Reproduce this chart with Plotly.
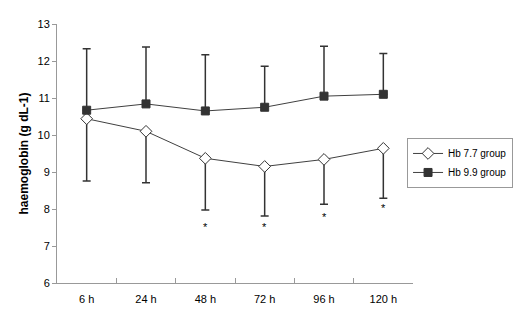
import plotly.graph_objects as go

times = ["6 h", "24 h", "48 h", "72 h", "96 h", "120 h"]
hb77_mean = [10.44, 10.10, 9.37, 9.15, 9.34, 9.64]
hb77_sd = [1.68, 1.39, 1.40, 1.34, 1.21, 1.35]
hb99_mean = [10.67, 10.84, 10.65, 10.75, 11.05, 11.10]
hb99_sd = [1.66, 1.54, 1.52, 1.11, 1.35, 1.10]
star_times = ["48 h", "72 h", "96 h", "120 h"]
star_y = [7.52, 7.52, 7.78, 8.02]

fig = go.Figure()
fig.add_trace(go.Scatter(
    x=times, y=hb77_mean, name="Hb 7.7 group", mode="lines+markers",
    line=dict(color="#404040", width=1),
    marker=dict(symbol="diamond", size=9, color="white", line=dict(color="#333333", width=1)),
    error_y=dict(type="data", symmetric=False, array=[0]*6, arrayminus=hb77_sd,
                 color="#333333", thickness=1.5, width=4),
))
fig.add_trace(go.Scatter(
    x=times, y=hb99_mean, name="Hb 9.9 group", mode="lines+markers",
    line=dict(color="#404040", width=1),
    marker=dict(symbol="square", size=8, color="#333333", line=dict(color="#333333", width=1)),
    error_y=dict(type="data", symmetric=False, array=hb99_sd, arrayminus=[0]*6,
                 color="#333333", thickness=1.5, width=4),
))
for t, yv in zip(star_times, star_y):
    fig.add_annotation(x=t, y=yv, text="*", showarrow=False,
                       font=dict(family="Liberation Sans, Arial", size=11, color="black"))

fig.update_layout(
    width=521, height=323,
    margin=dict(l=57, r=108, t=24, b=40, autoexpand=False),
    plot_bgcolor="white", paper_bgcolor="white",
    font=dict(family="Liberation Sans, Arial", size=11, color="black"),
    showlegend=True,
    legend=dict(x=1.281, y=0.56, xanchor="right", yanchor="top",
                bordercolor="#999999", borderwidth=1, font=dict(size=10),
                tracegroupgap=0, itemwidth=30),
)
fig.update_xaxes(
    type="category", showline=True, linecolor="#999999", linewidth=1,
    ticks="inside", tickson="boundaries", ticklen=5, tickcolor="#999999",
    showgrid=False, zeroline=False, range=[-0.5, 5.5], ticklabelstandoff=6,
)
fig.update_yaxes(
    range=[6, 13], dtick=1, showline=True, linecolor="#999999", linewidth=1,
    ticks="outside", ticklen=4, tickcolor="#999999", showgrid=False, zeroline=False,
    title=dict(text="<b>haemoglobin (g dL-1)</b>", font=dict(size=12), standoff=6),
)

fig.write_html("out.html", config={"displayModeBar": False},
               post_script="document.body.style.margin='0';")
